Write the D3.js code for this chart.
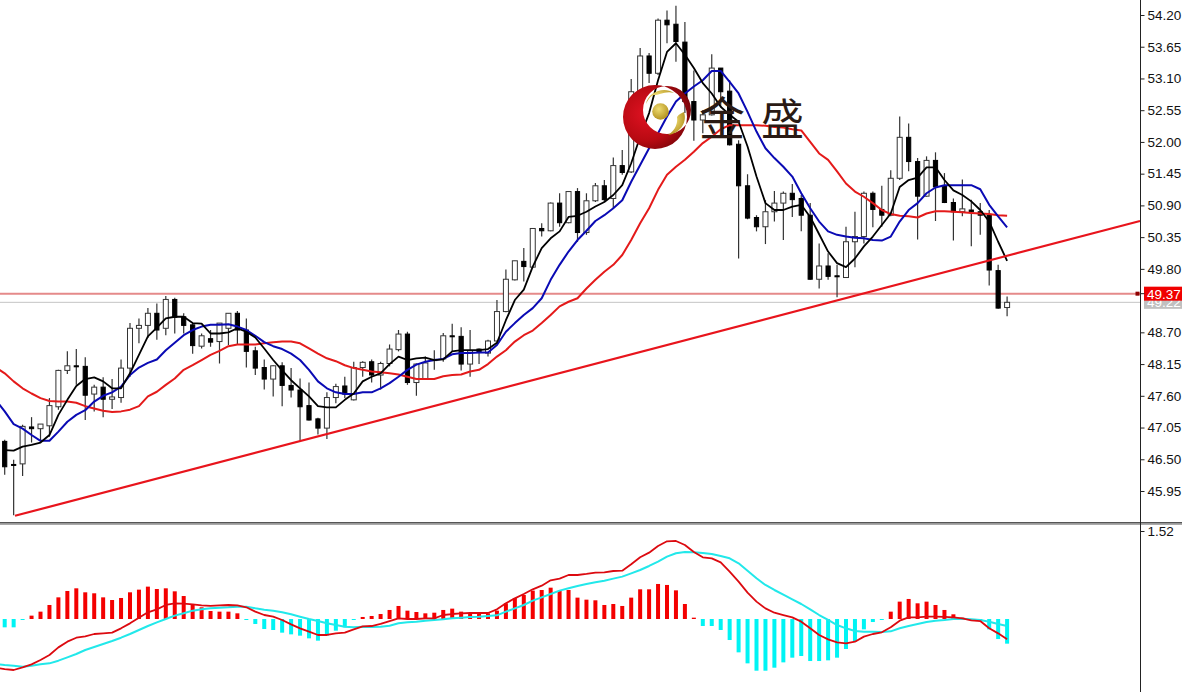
<!DOCTYPE html>
<html><head><meta charset="utf-8">
<script src="https://cdn.jsdelivr.net/npm/d3@7"></script>
<style>html,body{margin:0;padding:0;background:#fff;overflow:hidden}svg{display:block}text{font-family:"Liberation Sans",Arial,sans-serif}</style>
</head><body><svg id="c" width="1182" height="692"></svg>
<script>
const priceTicks=[54.20,53.65,53.10,52.55,52.00,51.45,50.90,50.35,49.80,48.70,48.15,47.60,47.05,46.50,45.95];
const opens=[46.81,46.41,46.42,47.06,47.03,47.08,47.41,48.04,48.12,48.11,47.63,47.75,47.54,47.57,48.08,48.77,48.82,49.03,48.77,49.27,48.97,48.83,48.46,48.59,48.54,48.77,49.03,48.74,48.38,48.09,47.89,48.12,47.78,47.70,47.43,47.20,47.04,47.57,47.77,47.53,48.09,48.19,47.96,48.16,48.40,48.67,47.83,47.90,48.21,48.24,48.64,48.63,48.15,48.41,48.34,48.55,49.06,49.61,49.93,49.83,50.50,50.46,50.94,50.60,51.14,50.43,50.98,51.24,51.02,51.59,51.48,52.84,53.49,53.19,54.11,54.04,53.73,52.70,52.38,52.47,53.28,52.88,51.96,51.24,50.69,50.53,50.79,50.94,51.11,51.02,50.73,49.62,49.85,49.68,49.65,50.27,50.36,51.11,50.83,50.73,51.37,52.08,51.66,51.06,51.68,51.24,50.95,50.79,50.82,50.79,50.73,49.77,49.13];
const closes=[46.37,46.40,47.07,47.03,47.11,47.43,48.04,48.12,48.11,47.61,47.75,47.54,47.58,48.08,48.77,48.82,49.03,48.74,49.27,48.96,48.82,48.47,48.64,48.53,48.86,49.03,48.74,48.37,48.08,47.89,48.12,47.78,47.70,47.41,47.18,47.04,47.57,47.76,47.63,48.09,48.18,47.96,48.16,48.41,48.67,47.83,48.15,48.17,48.23,48.64,48.63,48.15,48.38,48.35,48.55,49.06,49.62,49.94,49.84,50.50,50.46,50.94,50.60,51.14,50.43,50.98,51.24,51.00,51.59,51.47,52.87,53.49,53.19,54.11,54.03,53.74,52.70,52.38,52.47,53.28,52.87,51.95,51.24,50.68,50.53,50.79,50.94,51.11,51.00,50.73,49.62,49.85,49.67,49.67,50.27,50.36,51.11,50.83,50.73,51.37,52.08,51.66,51.06,51.68,51.22,50.95,50.79,50.84,50.79,50.73,49.78,49.12,49.22];
const highs=[46.84,46.49,47.10,47.23,47.11,47.56,48.05,48.37,48.41,48.27,47.79,47.92,47.89,48.23,48.86,48.94,49.12,49.20,49.33,49.30,49.03,48.86,48.68,48.74,48.86,49.03,49.07,48.94,48.45,48.23,48.13,48.18,48.08,47.90,47.83,47.22,47.66,47.81,47.93,48.19,48.20,48.23,48.19,48.49,48.74,48.71,48.16,48.28,48.39,48.69,48.85,48.79,48.74,48.42,48.57,49.26,49.79,49.94,50.16,50.50,50.59,50.95,51.11,51.14,51.20,51.11,51.29,51.34,51.73,51.86,53.09,53.63,53.54,54.14,54.28,54.36,54.08,53.24,52.55,53.52,53.28,53.07,52.03,51.44,50.73,50.99,51.15,51.14,51.27,51.08,50.94,50.24,50.07,49.87,50.53,50.79,51.14,51.14,51.24,51.51,52.44,52.32,51.72,51.75,51.82,51.46,51.02,51.35,51.00,50.94,50.82,49.87,49.32];
const lows=[46.23,45.53,46.21,46.79,46.81,46.89,47.36,47.98,47.79,47.18,47.33,47.23,47.37,47.48,47.93,48.51,48.60,48.57,48.65,48.68,48.68,48.33,48.42,48.45,48.16,48.48,48.48,48.09,47.96,47.71,47.59,47.42,47.57,46.81,47.17,46.93,46.85,47.47,47.56,47.52,47.93,47.83,47.71,48.11,48.37,47.79,47.60,47.90,48.05,48.19,48.37,48.04,47.93,48.15,48.28,48.54,49.05,49.60,49.58,49.82,50.36,50.45,50.53,50.59,50.27,50.39,50.96,50.96,50.85,51.43,51.46,52.81,53.02,53.16,53.71,53.39,52.50,52.02,52.15,52.46,52.61,51.94,49.98,50.66,50.45,50.23,50.62,50.30,50.70,50.45,49.61,49.46,49.61,49.31,49.64,49.83,50.24,50.52,50.53,50.71,51.34,51.49,50.31,51.05,50.63,50.94,50.29,50.71,50.19,50.39,49.51,49.11,48.98];
const maFast=[46.66,46.65,46.72,46.75,46.79,46.92,47.27,47.53,47.77,47.89,47.92,47.85,47.73,47.73,47.99,48.31,48.63,48.78,48.94,48.97,48.97,48.86,48.85,48.68,48.68,48.70,48.77,48.71,48.61,48.42,48.22,48.04,47.87,47.73,47.59,47.42,47.40,47.40,47.53,47.64,47.85,47.93,47.99,48.15,48.28,48.22,48.25,48.26,48.22,48.23,48.37,48.39,48.39,48.39,48.41,48.52,48.91,49.26,49.44,49.84,50.16,50.33,50.45,50.70,50.72,50.79,50.88,50.96,51.08,51.25,51.63,52.09,52.50,53.07,53.56,53.71,53.51,53.28,53.02,52.84,52.61,52.47,52.35,51.92,51.40,50.94,50.82,50.82,50.88,50.91,50.70,50.40,50.10,49.90,49.83,49.98,50.19,50.36,50.56,50.76,51.22,51.34,51.38,51.56,51.56,51.34,51.16,51.08,50.97,50.82,50.62,50.27,49.94];
// the two slower averages run off the left edge, so they carry one extra earlier value
const maMidEarlier=47.53;
const maMid=[47.33,47.11,47.03,46.92,46.82,46.82,46.98,47.15,47.27,47.35,47.50,47.60,47.66,47.76,47.96,48.09,48.17,48.23,48.39,48.52,48.65,48.74,48.80,48.83,48.83,48.84,48.80,48.74,48.64,48.53,48.46,48.41,48.33,48.22,48.05,47.85,47.73,47.66,47.63,47.63,47.66,47.66,47.73,47.82,47.93,48.05,48.14,48.19,48.22,48.24,48.32,48.34,48.34,48.35,48.35,48.48,48.71,48.86,49.00,49.12,49.29,49.61,49.87,50.10,50.30,50.46,50.63,50.73,50.85,50.99,51.31,51.60,51.89,52.15,52.44,52.70,52.84,52.96,53.07,53.23,53.23,53.04,52.84,52.52,52.18,51.89,51.72,51.57,51.40,51.11,50.85,50.62,50.45,50.39,50.36,50.34,50.33,50.30,50.29,50.36,50.62,50.82,50.94,51.11,51.21,51.25,51.25,51.25,51.25,51.18,50.91,50.71,50.52];
const maSlowEarlier=48.09;
const maSlow=[47.99,47.85,47.73,47.64,47.56,47.51,47.50,47.50,47.48,47.42,47.38,47.34,47.32,47.33,47.36,47.42,47.59,47.67,47.79,47.90,48.05,48.13,48.22,48.31,48.38,48.46,48.49,48.49,48.49,48.51,48.53,48.54,48.54,48.51,48.42,48.33,48.25,48.20,48.13,48.08,48.05,48.02,48.01,47.99,47.97,47.93,47.89,47.89,47.89,47.94,47.96,47.97,48.02,48.05,48.15,48.28,48.39,48.54,48.65,48.73,48.86,49.00,49.15,49.23,49.29,49.46,49.61,49.75,49.87,50.04,50.30,50.59,50.85,51.17,51.43,51.57,51.69,51.83,51.98,52.09,52.22,52.29,52.29,52.29,52.29,52.28,52.26,52.25,52.22,52.20,52.00,51.80,51.69,51.49,51.28,51.14,51.05,50.94,50.82,50.75,50.72,50.71,50.69,50.76,50.80,50.80,50.79,50.78,50.77,50.76,50.75,50.73,50.72];
const trendBars=[1.15,126.85];
const trendPrices=[45.52,50.63];
const askPrice=49.37, bidPrice=49.22;
const macdTicks=[1.52];
const macdHist=[-.144,-.144,-.012,.058,.127,.242,.374,.484,.530,.461,.444,.374,.328,.363,.461,.507,.559,.518,.530,.478,.397,.259,.202,.138,.127,.127,.098,-.012,-.086,-.173,-.190,-.236,-.265,-.288,-.334,-.374,-.288,-.202,-.144,-.017,.035,.052,.086,.156,.225,.144,.121,.098,.109,.156,.179,.127,.098,.098,.098,.144,.271,.363,.415,.490,.501,.541,.484,.501,.369,.334,.323,.242,.259,.225,.369,.513,.513,.605,.588,.495,.259,.023,-.121,-.121,-.190,-.363,-.576,-.766,-.893,-.893,-.841,-.749,-.668,-.639,-.726,-.726,-.714,-.668,-.518,-.392,-.179,-.052,-.006,.127,.300,.346,.271,.300,.242,.156,.081,.023,-.006,-.006,-.179,-.346,-.426];
const macdMainEarlier=-.841;
const macdMain=[-.864,-.881,-.835,-.783,-.708,-.622,-.490,-.392,-.323,-.300,-.259,-.248,-.236,-.161,-.075,.023,.115,.167,.242,.271,.265,.253,.236,.225,.236,.242,.236,.202,.127,.069,.040,-.017,-.092,-.161,-.219,-.276,-.276,-.248,-.236,-.179,-.127,-.121,-.086,-.035,.012,0,0,.012,.012,.069,.086,.098,.104,.104,.104,.167,.271,.357,.432,.513,.576,.668,.697,.760,.760,.778,.801,.806,.829,.835,.945,1.066,1.146,1.261,1.342,1.348,1.279,1.158,1.066,1.048,.979,.818,.645,.455,.300,.184,.109,.069,.029,-.046,-.161,-.276,-.351,-.403,-.420,-.392,-.305,-.259,-.230,-.144,-.029,.029,.029,.040,.040,.035,.029,.012,-.023,-.035,-.161,-.248,-.351];
const macdSignalEarlier=-.778;
const macdSignal=[-.795,-.806,-.824,-.806,-.783,-.766,-.720,-.662,-.605,-.536,-.484,-.432,-.380,-.323,-.259,-.190,-.121,-.058,0,.058,.098,.144,.167,.184,.196,.202,.213,.213,.184,.161,.144,.115,.081,.040,0,-.035,-.075,-.104,-.132,-.144,-.132,-.138,-.132,-.115,-.075,-.058,-.046,-.029,-.017,-.006,.012,.023,.035,.040,.052,.063,.127,.184,.242,.317,.374,.432,.490,.530,.570,.605,.634,.662,.697,.732,.789,.847,.916,.991,1.077,1.135,1.158,1.152,1.141,1.123,1.089,1.048,.962,.835,.703,.588,.501,.420,.340,.259,.167,.069,-.017,-.104,-.161,-.207,-.219,-.219,-.225,-.213,-.161,-.121,-.086,-.052,-.029,-.017,0,.006,-.006,-.017,-.046,-.086,-.121];
const logoChars=["金","盛"];

const svg=d3.select("#c");
const x=d3.scaleLinear().domain([0,112]).range([4.7,1007.1]);
const y=d3.scaleLinear().domain([45.95,54.20]).range([491,15]);
const m=d3.scaleLinear().domain([0,1.52]).range([619,531]);
const axisX=1140.5;
const defs=svg.append("defs");
defs.append("clipPath").attr("id","plot").append("rect").attr("width",axisX).attr("height",522);
defs.append("clipPath").attr("id","plotM").append("rect").attr("y",525).attr("width",axisX).attr("height",167);
const g=svg.append("g").attr("clip-path","url(#plot)");
const gm=svg.append("g").attr("clip-path","url(#plotM)");

g.append("line").attr("x1",0).attr("x2",axisX).attr("y1",y(bidPrice)).attr("y2",y(bidPrice)).attr("stroke","#c4c4c4").attr("stroke-width",1);
g.append("line").attr("x1",0).attr("x2",axisX).attr("y1",y(askPrice)).attr("y2",y(askPrice)).attr("stroke","#e58a8a").attr("stroke-width",2);

const idx=d3.range(opens.length);
const bull=i=>closes[i]>=opens[i];
const cg=g.selectAll("g.k").data(idx).join("g").attr("class","k");
cg.append("line").attr("x1",i=>x(i)).attr("x2",i=>x(i)).attr("y1",i=>y(highs[i])).attr("y2",i=>y(lows[i])).attr("stroke","#333").attr("stroke-width",1.2);
cg.append("rect")
  .attr("x",i=>x(i)-(bull(i)?2.5:2.1)).attr("width",i=>bull(i)?5:4.2)
  .attr("y",i=>y(Math.max(opens[i],closes[i])))
  .attr("height",i=>Math.max(1,Math.abs(y(opens[i])-y(closes[i]))))
  .attr("fill",i=>bull(i)?"#fff":"#000")
  .attr("stroke",i=>bull(i)?"#333":"#000").attr("stroke-width",1);

const line=(sc)=>d3.line().x(d=>x(d[0])).y(d=>sc(d[1]));
const ser=(arr,earlier)=>{const s=arr.map((v,i)=>[i,v]);if(earlier!==undefined)s.unshift([-1,earlier]);return s;};
const drawLine=(p,data,sc,col,w)=>p.append("path").attr("d",line(sc)(data)).attr("fill","none").attr("stroke",col).attr("stroke-width",w).attr("stroke-linejoin","round");
drawLine(g,ser(maSlow,maSlowEarlier),y,"#e41a1a",2);
drawLine(g,ser(maMid,maMidEarlier),y,"#0a0ab4",2);
drawLine(g,ser(maFast),y,"#000",1.8);
g.append("line").attr("x1",x(trendBars[0])).attr("x2",x(trendBars[1])).attr("y1",y(trendPrices[0])).attr("y2",y(trendPrices[1])).attr("stroke","#e8141c").attr("stroke-width",2.2);

const logo=svg.append("g");
const grad=defs.append("radialGradient").attr("id","crescent").attr("cx","0.35").attr("cy","0.45").attr("r","0.7");
grad.append("stop").attr("offset","0").attr("stop-color","#e01222");
grad.append("stop").attr("offset","0.6").attr("stop-color","#b80a12");
grad.append("stop").attr("offset","1").attr("stop-color","#6e0408");
const ring=d3.path();
ring.arc(655,117,32,0,2*Math.PI);ring.closePath();
ring.moveTo(691,110);ring.arc(667,110,24,0,2*Math.PI);ring.closePath();
logo.append("path").attr("d",ring.toString()).attr("fill","url(#crescent)").attr("fill-rule","evenodd");
const gold=defs.append("radialGradient").attr("id","gold").attr("cx","0.4").attr("cy","0.35").attr("r","0.7");
gold.append("stop").attr("offset","0").attr("stop-color","#eedb70");
gold.append("stop").attr("offset","1").attr("stop-color","#b08e1c");
logo.append("circle").attr("cx",660.5).attr("cy",111.5).attr("r",8.3).attr("fill","url(#gold)");
logo.append("path").attr("d","M646,104 C648,92 664,86 674,93 C666,90 657,96 654,95 C650,96 648,100 646,104Z").attr("fill","url(#gold)");
logo.append("path").attr("d","M684,112 C688,124 678,134 668,135 C676,130 678,122 677,117 C679,114 682,113 684,112Z").attr("fill","url(#gold)");
logo.selectAll("text").data(logoChars).join("text")
  .attr("x",(d,i)=>[722,782.5][i]).attr("y",(d,i)=>[135,135][i]).attr("text-anchor","middle")
  .style("font-family",'"Noto Sans CJK SC"').attr("font-size",(d,i)=>[46,43][i]).attr("fill","#2a1a14").text(d=>d);

gm.selectAll("rect.h").data(idx).join("rect").attr("class","h")
  .attr("x",i=>x(i)-2).attr("width",4)
  .attr("y",i=>macdHist[i]>=0?m(macdHist[i]):m(0))
  .attr("height",i=>Math.max(1,Math.abs(m(macdHist[i])-m(0))))
  .attr("fill",i=>macdHist[i]>=0?"#f40000":"#00f4f4");
drawLine(gm,ser(macdSignal,macdSignalEarlier),m,"#22e8ea",2);
drawLine(gm,ser(macdMain,macdMainEarlier),m,"#dc0a10",1.8);

svg.append("rect").attr("x",0).attr("y",522).attr("width",1182).attr("height",1.6).attr("fill","#555");
svg.append("rect").attr("x",0).attr("y",524).attr("width",1182).attr("height",1).attr("fill","#aaa");
svg.append("line").attr("x1",axisX).attr("x2",axisX).attr("y1",0).attr("y2",692).attr("stroke","#222").attr("stroke-width",1);

const ax=svg.append("g").attr("transform",`translate(${axisX},0)`)
  .call(d3.axisRight(y).tickValues(priceTicks).tickFormat(d3.format(".2f")).tickSize(4).tickPadding(3));
ax.select(".domain").remove();
ax.selectAll("line").attr("stroke","#222");
ax.selectAll("text").attr("font-size",13.5).attr("fill","#111").style("font-family",'"Liberation Sans",Arial,sans-serif');
const axm=svg.append("g").attr("transform",`translate(${axisX},0)`)
  .call(d3.axisRight(m).tickValues(macdTicks).tickFormat(d3.format(".2f")).tickSize(4).tickPadding(3));
axm.select(".domain").remove();
axm.selectAll("line").attr("stroke","#222");
axm.selectAll("text").attr("font-size",13.5).attr("fill","#111").style("font-family",'"Liberation Sans",Arial,sans-serif');

const tag=(val,bg,h)=>{
  const py=y(val);
  svg.append("rect").attr("x",1144).attr("y",py-h/2).attr("width",38).attr("height",h).attr("fill",bg);
  svg.append("text").attr("x",1147).attr("y",py+5).attr("font-size",13.5).attr("fill","#fff").text(d3.format(".2f")(val));
};
tag(bidPrice,"#c0c0c0",13);
tag(askPrice,"#f00000",14);
svg.append("rect").attr("x",axisX-5).attr("y",y(askPrice)-2).attr("width",4).attr("height",4).attr("fill","#8e0000");
svg.append("line").attr("x1",axisX).attr("x2",axisX+4).attr("y1",y(askPrice)).attr("y2",y(askPrice)).attr("stroke","#222");
</script></body></html>
